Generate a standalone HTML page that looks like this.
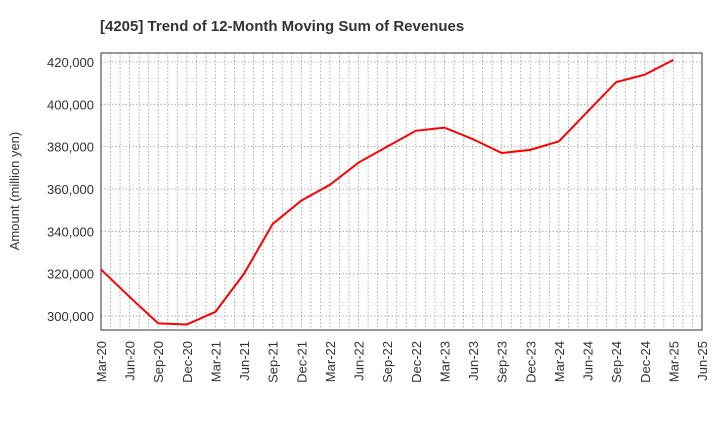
<!DOCTYPE html>
<html><head><meta charset="utf-8"><style>
body{margin:0;background:#fff;font-family:"Liberation Sans",sans-serif}
</style></head><body>
<svg id="c" width="720" height="440" xmlns="http://www.w3.org/2000/svg">
<text x="100" y="31" font-size="15" font-weight="bold" fill="#333">[4205]  Trend of 12-Month Moving Sum of Revenues</text>
<text transform="translate(19,191) rotate(-90)" text-anchor="middle" font-size="13" fill="#333">Amount (million yen)</text>
<g id="grid"></g><g id="axes"></g><g id="series"></g>
</svg>
<script>
const categories=["Mar-20","Jun-20","Sep-20","Dec-20","Mar-21","Jun-21","Sep-21","Dec-21","Mar-22","Jun-22","Sep-22","Dec-22","Mar-23","Jun-23","Sep-23","Dec-23","Mar-24","Jun-24","Sep-24","Dec-24","Mar-25"];
const xTickLabels=["Mar-20","Jun-20","Sep-20","Dec-20","Mar-21","Jun-21","Sep-21","Dec-21","Mar-22","Jun-22","Sep-22","Dec-22","Mar-23","Jun-23","Sep-23","Dec-23","Mar-24","Jun-24","Sep-24","Dec-24","Mar-25","Jun-25"];
const revenues=[322000,309000,296500,296000,302000,320000,343500,354500,362000,372500,380000,387500,389000,383500,377000,378500,382500,396500,410500,414000,421000];
const yTicks=[300000,320000,340000,360000,380000,400000,420000];
const L=101,R=702,T=53,B=330,YMIN=293380,YMAX=424250;
const NS="http://www.w3.org/2000/svg";
const xq=i=>L+(R-L)*i/(xTickLabels.length-1);
const y=v=>B-(v-YMIN)/(YMAX-YMIN)*(B-T);
function mk(t,a,p){const e=document.createElementNS(NS,t);for(const k in a)e.setAttribute(k,a[k]);p.appendChild(e);return e;}
const g=document.getElementById('grid'),ax=document.getElementById('axes'),s=document.getElementById('series');
const nMonths=(xTickLabels.length-1)*3;
for(let m=1;m<nMonths;m++){const x=L+(R-L)*m/nMonths;
const ln=mk('line',{x1:x,x2:x,y1:T,y2:B,stroke:'#999','stroke-dasharray':'1.5,2','stroke-width':0.8},g);

}
yTicks.forEach(v=>{
const ln=mk('line',{x1:L,x2:R,y1:y(v),y2:y(v),stroke:'#999','stroke-dasharray':'1.5,2','stroke-width':0.8},g);


const t=mk('text',{x:L-7,y:y(v)+5,'text-anchor':'end','font-size':13,fill:'#333'},ax);t.textContent=v.toLocaleString('en-US');

});
xTickLabels.forEach((c,i)=>{const x=xq(i);
const t=mk('text',{transform:`translate(${x+5},${B+11}) rotate(-90)`,'text-anchor':'end','font-size':13,fill:'#333'},ax);t.textContent=c;

});
const fr=mk('rect',{x:L,y:T,width:R-L,height:B-T,fill:'none',stroke:'#333','stroke-width':1},ax);


const pts=revenues.map((v,i)=>xq(i)+','+y(v)).join(' ');
const pl=mk('polyline',{points:pts,fill:'none',stroke:'#f00','stroke-width':2},s);


</script>
</body></html>
